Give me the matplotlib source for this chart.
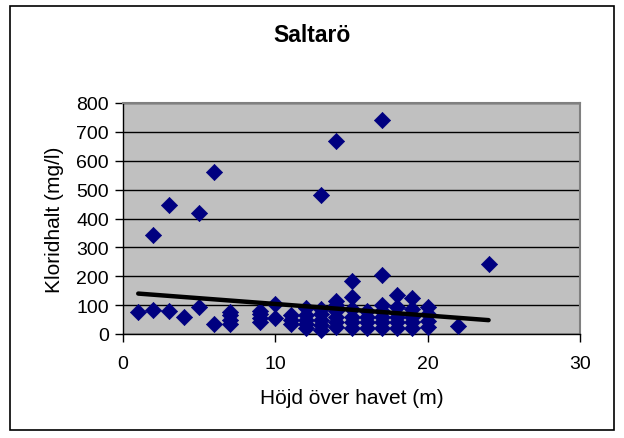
import numpy as np
import matplotlib
matplotlib.use("Agg")
import matplotlib.pyplot as plt
from matplotlib.patches import Rectangle

plt.rcParams['font.family'] = ['Liberation Sans', 'DejaVu Sans']

# Height above sea level (m) and chloride content (mg/l) for each well
hojd = [1, 2, 2, 3, 3, 4, 5, 5, 6, 6,
        7, 7, 7, 7,
        9, 9, 9, 9,
        10, 10,
        11, 11, 11,
        12, 12, 12, 12, 12,
        13, 13, 13, 13, 13, 13,
        14, 14, 14, 14, 14, 14, 14,
        15, 15, 15, 15, 15, 15,
        16, 16, 16, 16,
        17, 17, 17, 17, 17, 17, 17,
        18, 18, 18, 18, 18,
        19, 19, 19, 19, 19,
        20, 20, 20, 20,
        22, 24]
klorid = [75, 83, 342, 80, 446, 58, 93, 420, 35, 562,
          35, 50, 65, 75,
          40, 55, 70, 80,
          55, 105,
          35, 50, 65,
          20, 35, 50, 65, 90,
          15, 30, 50, 70, 85, 481,
          25, 40, 60, 80, 100, 115, 670,
          20, 40, 60, 85, 127, 185,
          20, 40, 60, 80,
          20, 40, 60, 80, 100, 205, 741,
          20, 40, 60, 95, 135,
          20, 40, 60, 85, 125,
          25, 45, 70, 95,
          28, 243]

# Linear trend (mg/l per m, mg/l at 0 m)
trend_slope = -4.0
trend_intercept = 144.0

title = "Saltarö"
xlabel = "Höjd över havet (m)"
ylabel = "Kloridhalt (mg/l)"

fig = plt.figure(figsize=(6.24, 4.39), dpi=100)
fig.patch.set_facecolor('white')
fig.patches.append(Rectangle((10 / 624, 8 / 439), 604 / 624, 424 / 439,
                             transform=fig.transFigure, fill=False,
                             edgecolor='black', linewidth=1.2))

ax = fig.add_axes([123 / 624, 104 / 439, 457 / 624, 231 / 439])
ax.set_facecolor('#C0C0C0')

x = np.array(hojd, dtype=float)
y = np.array(klorid, dtype=float)
ax.scatter(x, y, marker='D', s=68, color='#000080', edgecolors='#000080',
           linewidths=0.5, zorder=3, clip_on=False)

xt = np.array([x.min(), x.max()])
ax.plot(xt, trend_slope * xt + trend_intercept, color='black',
        linewidth=3.2, zorder=4, solid_capstyle='round')

ax.set_xlim(0, 30)
ax.set_ylim(0, 800)
ax.set_xticks([0, 10, 20, 30])
ax.set_yticks(range(0, 801, 100))
ax.yaxis.grid(True, color='black', linewidth=1)
ax.set_axisbelow(True)
ax.tick_params(direction='out', length=6, width=1, labelsize=14,
               colors='black')
ax.tick_params(axis='x', pad=9)
ax.tick_params(axis='y', pad=4)
for side in ('top', 'right'):
    ax.spines[side].set_color('#808080')
    ax.spines[side].set_linewidth(1.5)
for side in ('left', 'bottom'):
    ax.spines[side].set_color('black')
    ax.spines[side].set_linewidth(1)

ax.set_xlabel(xlabel, fontsize=15, labelpad=12)
ax.set_ylabel(ylabel, fontsize=15, labelpad=9)
fig.text(0.5, 1 - 36 / 439, title, ha='center', va='center',
         fontsize=16.5, fontweight='bold')

fig.savefig('out.png', dpi=100)
